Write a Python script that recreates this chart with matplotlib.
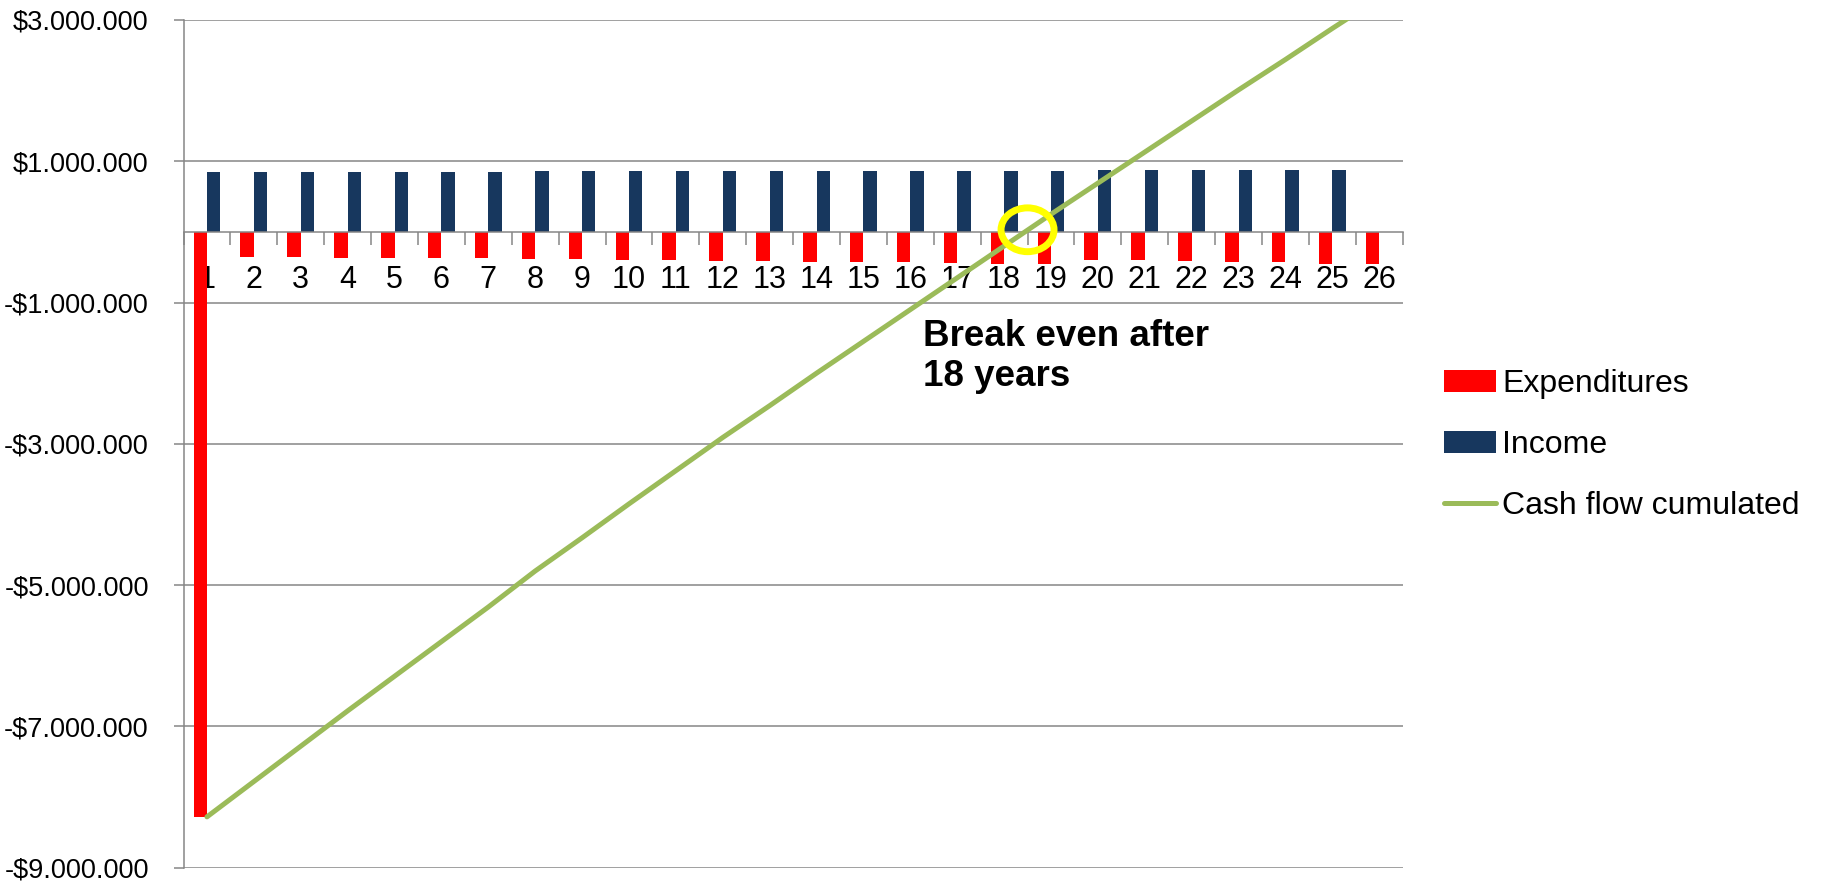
import matplotlib

matplotlib.use("Agg")
import matplotlib.pyplot as plt  # noqa: E402
import numpy as np  # noqa: E402
from matplotlib.patches import Ellipse  # noqa: E402
from matplotlib.ticker import FixedLocator, FuncFormatter  # noqa: E402

# values in dollars
years = list(range(1, 27))
expenditures = [
    -8280000, -357000, -362000, -366000, -371000, -372000, -376000, -381000,
    -386000, -394000, -403000, -408000, -413000, -422000, -423000, -432000,
    -441000, -450000, -460000, -394000, -403000, -413000, -422000, -432000,
    -450000, -460000,
]
# no income bar in year 26
income = [
    844000, 844000, 844000, 845000, 845000, 845000, 846000, 857000, 857000,
    857000, 858000, 866000, 866000, 866000, 866000, 866000, 867000, 867000,
    867000, 872000, 872000, 872000, 876000, 880000, 880000,
]
cash_flow_cum = [
    -8280000, -7780000, -7280000, -6780000, -6290000, -5800000, -5310000,
    -4800000, -4330000, -3850000, -3380000, -2910000, -2460000, -2000000,
    -1550000, -1100000, -650000, -200000, 250000, 690000, 1130000, 1570000,
    2010000, 2440000, 2880000, 3310000,
]
series_names = ["Expenditures", "Income", "Cash flow cumulated"]
ytick_values = [3000000, 1000000, -1000000, -3000000, -5000000, -7000000, -9000000]
break_even_text = "Break even after\n18 years"
break_even_year = 18

RED = "#FF0000"
NAVY = "#17375E"
GREEN = "#9BBB59"
GREY = "#868686"
FONT = "Liberation Sans"


def money(v, _pos=None):
    s = f"{abs(v):,.0f}".replace(",", ".")
    return f"-${s}" if v < 0 else f"${s}"


fig = plt.figure(figsize=(18.35, 8.83), dpi=100)
ax = fig.add_axes([0.1, 0.0173, 0.6644, 0.9601])

x = np.arange(len(years))
w = 0.286
h_exp = ax.bar(x - w / 2, expenditures, width=w, color=RED, zorder=2)
h_inc = ax.bar(x[: len(income)] + w / 2, income, width=w, color=NAVY, zorder=2)
(h_cum,) = ax.plot(x, cash_flow_cum, color=GREEN, lw=3.6, solid_capstyle="round",
                   zorder=4)

# yellow ring around the break-even point
ax.add_patch(Ellipse((break_even_year - 0.5, 30000), 1.13, 620000, fill=False,
                     edgecolor="#FFFF00", lw=5, zorder=5))

ax.set_xlim(-0.5, len(years) - 0.5)
ax.set_ylim(-9000000, 3000000)

# axes styling like a spreadsheet chart
for side in ("top", "right"):
    ax.spines[side].set_visible(False)
ax.spines["left"].set_color(GREY)
ax.spines["left"].set_linewidth(1.1)
ax.spines["bottom"].set_position(("data", 0))
ax.spines["bottom"].set_color(GREY)
ax.spines["bottom"].set_linewidth(1.1)
ax.spines["bottom"].set_zorder(3)

ax.yaxis.set_major_locator(FixedLocator(ytick_values))
ax.yaxis.set_major_formatter(FuncFormatter(money))
ax.tick_params(axis="y", length=7, width=1.1, color=GREY, pad=18,
               labelsize=19.5)
for lab in ax.get_yticklabels():
    lab.set_family(FONT)
ax.grid(axis="y", color=GREY, lw=1.1, zorder=0)
ax.set_axisbelow(True)

ax.set_xticks(x)
ax.set_xticklabels([str(y) for y in years], fontsize=22, family=FONT)
ax.set_xticks(np.arange(len(years) + 1) - 0.5, minor=True)
ax.tick_params(axis="x", which="major", length=0, pad=24)
ax.tick_params(axis="x", which="minor", length=9, width=1.1, color=GREY,
               direction="out")

fig.text(923 / 1835, 1 - 319 / 883, break_even_text, fontsize=26.5,
         fontweight="bold", family=FONT, ha="left", va="top", linespacing=1.2)

fig.legend([h_exp, h_inc, h_cum], series_names, loc="center left",
           bbox_to_anchor=(1444 / 1835, 1 - 445 / 883),
           frameon=False, prop={"family": FONT, "size": 23}, borderpad=0,
           borderaxespad=0, handlelength=1.63, handleheight=0.66,
           handletextpad=0.2, labelspacing=0.97)

fig.savefig("out.png", dpi=100)
plt.close(fig)
